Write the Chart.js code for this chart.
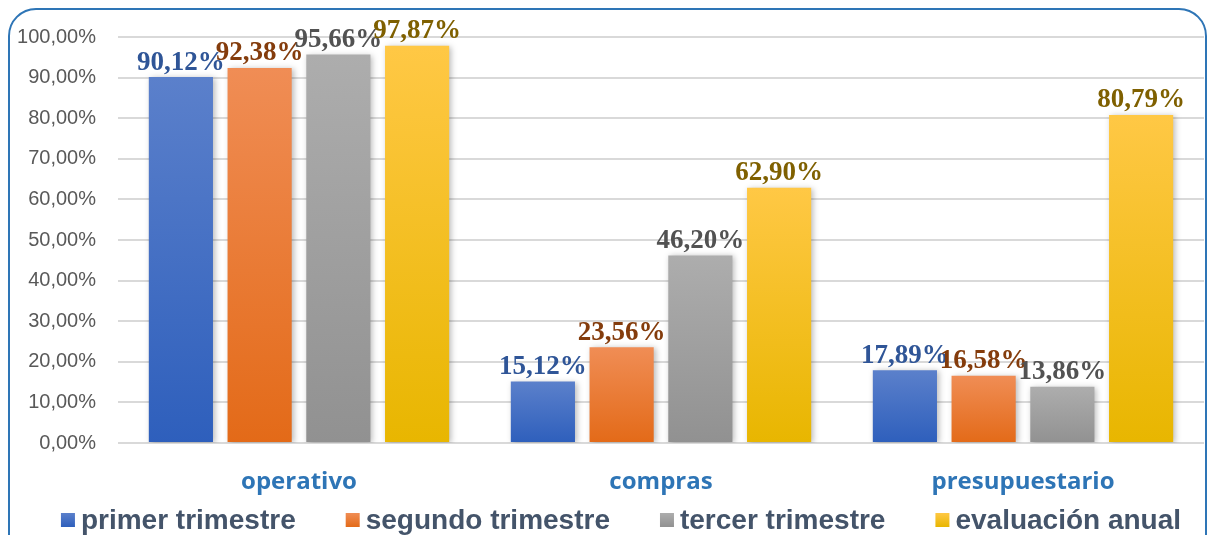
<!DOCTYPE html>
<html>
<head>
<meta charset="utf-8">
<script src="https://cdn.jsdelivr.net/npm/chart.js@4/dist/chart.umd.min.js"></script>
<style>
    body { margin: 0; background: #fff; }
    #wrap { position: relative; width: 1211px; height: 535px; overflow: hidden; }
    #frame {
        position: absolute; left: 8px; top: 8px; width: 1195px; height: 580px;
        border: 2px solid #2E75B6; border-radius: 28px; pointer-events: none;
    }
</style>
</head>
<body>
<div id="wrap">
    <canvas id="myBarChart" width="1211" height="535"></canvas>
    <div id="frame"></div>
</div>
<script>
// Kategorien und Werte (in %)
const categories = ["operativo", "compras", "presupuestario"];
const seriesNames = ["primer trimestre", "segundo trimestre", "tercer trimestre", "evaluación anual"];
const primerTrimestre = [90.12, 15.12, 17.89];
const segundoTrimestre = [92.38, 23.56, 16.58];
const tercerTrimestre = [95.66, 46.20, 13.86];
const evaluacionAnual = [97.87, 62.90, 80.79];
const yTicks = [0, 10, 20, 30, 40, 50, 60, 70, 80, 90, 100];

// Farben: oben hell, unten dunkel, Beschriftungsfarbe
const palette = [
    { top: "#5B80CB", bottom: "#2E5FBC", label: "#2F5597" },
    { top: "#F08D55", bottom: "#E36A18", label: "#843C0C" },
    { top: "#ADADAD", bottom: "#919191", label: "#525252" },
    { top: "#FFC845", bottom: "#E8B600", label: "#7F6000" }
];

function fmt(v) {
    return v.toFixed(2).replace(".", ",") + "%";
}

function barGradient(i) {
    return function (context) {
        const chart = context.chart;
        const area = chart.chartArea;
        if (!area || context.parsed === undefined || context.parsed.y === undefined) {
            return palette[i].bottom;
        }
        const yTop = chart.scales.y.getPixelForValue(context.parsed.y);
        const g = chart.ctx.createLinearGradient(0, yTop, 0, area.bottom);
        g.addColorStop(0, palette[i].top);
        g.addColorStop(1, palette[i].bottom);
        return g;
    };
}

// Schatten hinter den Balken
const shadowPlugin = {
    id: "barShadow",
    beforeDatasetsDraw(chart) {
        const ctx = chart.ctx;
        ctx.save();
        ctx.shadowColor = "rgba(0,0,0,0.28)";
        ctx.shadowBlur = 6;
        ctx.shadowOffsetX = 2;
        ctx.shadowOffsetY = 1;
    },
    afterDatasetsDraw(chart) {
        chart.ctx.restore();
    }
};

// Werte ueber den Balken
const valueLabels = {
    id: "valueLabels",
    afterDatasetsDraw(chart) {
        const ctx = chart.ctx;
        ctx.save();
        ctx.font = "bold 27px 'Liberation Serif'";
        ctx.textAlign = "center";
        ctx.textBaseline = "bottom";
        chart.data.datasets.forEach((ds, i) => {
            const meta = chart.getDatasetMeta(i);
            ctx.fillStyle = palette[i].label;
            meta.data.forEach((bar, j) => {
                ctx.fillText(fmt(ds.data[j]), bar.x, bar.y - 1);
            });
        });
        ctx.restore();
    }
};

// Legende unten, selbst gezeichnet (engere Abstaende als Chart.js)
const bottomLegend = {
    id: "bottomLegend",
    afterDraw(chart) {
        const ctx = chart.ctx;
        ctx.save();
        ctx.font = "bold 28px 'Liberation Sans'";
        ctx.textBaseline = "middle";
        const box = 14, gapText = 6, gapItem = 50;
        const widths = seriesNames.map(n => ctx.measureText(n).width);
        const total = widths.reduce((a, w) => a + box + gapText + w, 0) + gapItem * (seriesNames.length - 1);
        let x = 621 - total / 2;
        const y = 520;
        seriesNames.forEach((name, i) => {
            const g = ctx.createLinearGradient(0, y - box / 2, 0, y + box / 2);
            g.addColorStop(0, palette[i].top);
            g.addColorStop(1, palette[i].bottom);
            ctx.fillStyle = g;
            ctx.fillRect(x, y - box / 2, box, box);
            x += box + gapText;
            ctx.fillStyle = "#44546A";
            ctx.fillText(name, x, y + 1);
            x += widths[i] + gapItem;
        });
        ctx.restore();
    }
};

const seriesData = [primerTrimestre, segundoTrimestre, tercerTrimestre, evaluacionAnual];

const ctx = document.getElementById("myBarChart");
const myBarChart = new Chart(ctx, {
    type: "bar",
    data: {
        labels: categories,
        datasets: seriesData.map((d, i) => ({
            label: seriesNames[i],
            data: d,
            backgroundColor: barGradient(i),
            borderWidth: 0,
            categoryPercentage: 0.87,
            barPercentage: 0.815
        }))
    },
    options: {
        responsive: false,
        animation: false,
        layout: {
            padding: { top: 37, right: 7, left: 0, bottom: 0 }
        },
        plugins: {
            tooltip: { enabled: false },
            legend: { display: false }
        },
        scales: {
            x: {
                grid: { display: false },
                border: { display: false },
                afterFit(scale) {
                    scale.height = 92;
                },
                ticks: {
                    color: "#2E75B6",
                    padding: 17,
                    font: { family: "'Open Sans'", size: 24, weight: "bold" }
                }
            },
            y: {
                min: 0,
                max: 100,
                afterBuildTicks(scale) {
                    scale.ticks = yTicks.map(v => ({ value: v }));
                },
                afterFit(scale) {
                    scale.width = 118;
                },
                grid: { color: "#D9D9D9", lineWidth: 2, drawTicks: false },
                border: { display: false },
                ticks: {
                    color: "#595959",
                    padding: 22,
                    font: { family: "'Liberation Sans', Arial", size: 20 },
                    callback: v => fmt(v)
                }
            }
        }
    },
    plugins: [shadowPlugin, valueLabels, bottomLegend]
});
</script>
</body>
</html>
